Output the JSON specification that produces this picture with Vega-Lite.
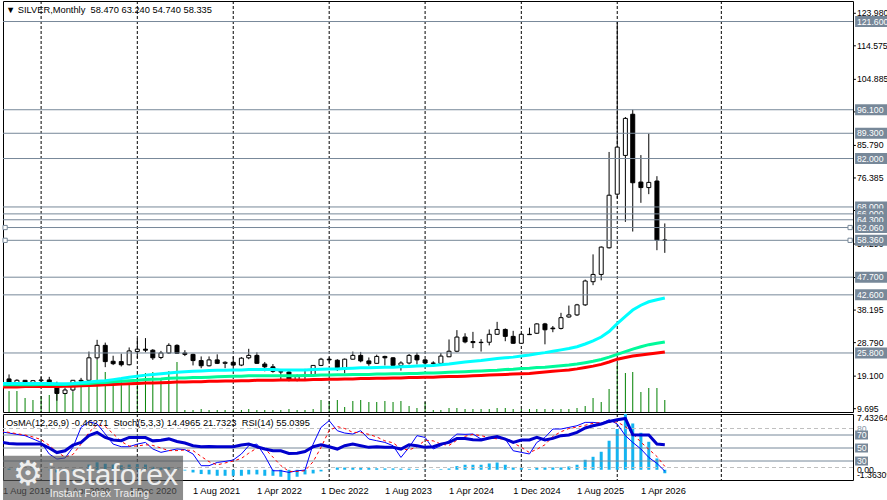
{
  "$schema": "https://vega.github.io/schema/vega-lite/v6.json",
  "padding": 0,
  "autosize": {"type": "pad"},
  "background": "white",
  "spacing": 2,
  "bounds": "flush",
  "config": {
    "view": {"stroke": "black", "strokeWidth": 1},
    "text": {"font": "Liberation Sans", "color": "black"},
    "scale": {"continuousPadding": 0}
  },
  "datasets": {
    "bars": [
      {"date": "2019-08-01", "open": 16.4, "high": 18.6, "low": 16.2, "close": 18.3, "vol": 25, "ma_fast": 17.0, "ma_mid": 16.6, "ma_slow": 16.0, "osma": 0.2, "stoch": 75, "signal": 76, "rsi": 59},
      {"date": "2019-09-01", "open": 18.3, "high": 19.6, "low": 16.9, "close": 17.2, "vol": 21, "ma_fast": 17.0, "ma_mid": 16.6, "ma_slow": 16.0, "osma": 0.15, "stoch": 73, "signal": 74, "rsi": 57},
      {"date": "2019-10-01", "open": 17.2, "high": 18.2, "low": 16.9, "close": 17.9, "vol": 21, "ma_fast": 17.0, "ma_mid": 16.6, "ma_slow": 16.0, "osma": 0.1, "stoch": 71, "signal": 72, "rsi": 56},
      {"date": "2019-11-01", "open": 17.9, "high": 18.0, "low": 16.6, "close": 17.1, "vol": 14, "ma_fast": 17.0, "ma_mid": 16.6, "ma_slow": 16.1, "osma": 0.0, "stoch": 69, "signal": 70, "rsi": 56},
      {"date": "2019-12-01", "open": 17.1, "high": 18.0, "low": 16.8, "close": 17.8, "vol": 12, "ma_fast": 17.0, "ma_mid": 16.6, "ma_slow": 16.1, "osma": -0.05, "stoch": 64, "signal": 67, "rsi": 56},
      {"date": "2020-01-01", "open": 17.8, "high": 18.9, "low": 17.4, "close": 18.0, "vol": 16, "ma_fast": 17.0, "ma_mid": 16.7, "ma_slow": 16.1, "osma": 0.05, "stoch": 58.6, "signal": 63, "rsi": 56},
      {"date": "2020-02-01", "open": 18.0, "high": 18.9, "low": 16.6, "close": 16.7, "vol": 17, "ma_fast": 17.0, "ma_mid": 16.7, "ma_slow": 16.1, "osma": -0.05, "stoch": 40.8, "signal": 54, "rsi": 50},
      {"date": "2020-03-01", "open": 16.6, "high": 17.5, "low": 12.0, "close": 14.1, "vol": 26, "ma_fast": 16.9, "ma_mid": 16.7, "ma_slow": 16.1, "osma": -0.35, "stoch": 33, "signal": 44, "rsi": 43},
      {"date": "2020-04-01", "open": 14.1, "high": 15.8, "low": 13.9, "close": 15.1, "vol": 19, "ma_fast": 16.9, "ma_mid": 16.7, "ma_slow": 16.2, "osma": -0.3, "stoch": 34.6, "signal": 36, "rsi": 45.8},
      {"date": "2020-05-01", "open": 15.1, "high": 18.0, "low": 14.6, "close": 17.9, "vol": 20, "ma_fast": 17.0, "ma_mid": 16.8, "ma_slow": 16.2, "osma": -0.1, "stoch": 51, "signal": 40, "rsi": 54.6},
      {"date": "2020-06-01", "open": 17.9, "high": 18.6, "low": 17.2, "close": 17.7, "vol": 32, "ma_fast": 17.2, "ma_mid": 16.9, "ma_slow": 16.3, "osma": 0.1, "stoch": 81.7, "signal": 56, "rsi": 58.6},
      {"date": "2020-07-01", "open": 17.9, "high": 26.2, "low": 17.7, "close": 24.4, "vol": 33, "ma_fast": 17.4, "ma_mid": 17.0, "ma_slow": 16.4, "osma": 0.7, "stoch": 90.5, "signal": 74, "rsi": 69},
      {"date": "2020-08-01", "open": 24.4, "high": 29.6, "low": 23.8, "close": 28.0, "vol": 52, "ma_fast": 17.6, "ma_mid": 17.2, "ma_slow": 16.5, "osma": 1.0, "stoch": 87, "signal": 86, "rsi": 74},
      {"date": "2020-09-01", "open": 28.0, "high": 28.8, "low": 21.7, "close": 23.3, "vol": 40, "ma_fast": 17.8, "ma_mid": 17.3, "ma_slow": 16.6, "osma": 0.8, "stoch": 71.5, "signal": 83, "rsi": 66.3},
      {"date": "2020-10-01", "open": 23.4, "high": 25.0, "low": 22.3, "close": 22.7, "vol": 33, "ma_fast": 18.1, "ma_mid": 17.5, "ma_slow": 16.7, "osma": 0.7, "stoch": 56, "signal": 72, "rsi": 62.3},
      {"date": "2020-11-01", "open": 23.3, "high": 25.6, "low": 21.9, "close": 22.4, "vol": 33, "ma_fast": 18.4, "ma_mid": 17.6, "ma_slow": 16.8, "osma": 0.6, "stoch": 52, "signal": 60, "rsi": 61.2},
      {"date": "2020-12-01", "open": 22.4, "high": 27.4, "low": 22.2, "close": 26.4, "vol": 28, "ma_fast": 18.8, "ma_mid": 17.8, "ma_slow": 16.9, "osma": 0.7, "stoch": 52, "signal": 53, "rsi": 66.3},
      {"date": "2021-01-01", "open": 26.2, "high": 30.0, "low": 24.3, "close": 26.9, "vol": 38, "ma_fast": 19.1, "ma_mid": 17.9, "ma_slow": 17.0, "osma": 0.75, "stoch": 56, "signal": 53, "rsi": 66.3},
      {"date": "2021-02-01", "open": 26.9, "high": 30.1, "low": 26.0, "close": 26.6, "vol": 39, "ma_fast": 19.4, "ma_mid": 18.1, "ma_slow": 17.1, "osma": 0.7, "stoch": 58.6, "signal": 55, "rsi": 66},
      {"date": "2021-03-01", "open": 26.6, "high": 26.9, "low": 23.8, "close": 24.4, "vol": 40, "ma_fast": 19.6, "ma_mid": 18.2, "ma_slow": 17.1, "osma": 0.4, "stoch": 48.5, "signal": 54, "rsi": 61},
      {"date": "2021-04-01", "open": 24.5, "high": 26.4, "low": 24.0, "close": 25.8, "vol": 34, "ma_fast": 19.8, "ma_mid": 18.3, "ma_slow": 17.2, "osma": 0.3, "stoch": 43.3, "signal": 50, "rsi": 62},
      {"date": "2021-05-01", "open": 25.8, "high": 28.6, "low": 25.6, "close": 28.0, "vol": 41, "ma_fast": 20.0, "ma_mid": 18.5, "ma_slow": 17.3, "osma": 0.35, "stoch": 46, "signal": 46, "rsi": 64},
      {"date": "2021-06-01", "open": 28.0, "high": 28.3, "low": 25.5, "close": 25.7, "vol": 50, "ma_fast": 20.2, "ma_mid": 18.6, "ma_slow": 17.4, "osma": 0.15, "stoch": 48.5, "signal": 46, "rsi": 60},
      {"date": "2021-07-01", "open": 25.8, "high": 26.6, "low": 24.9, "close": 25.4, "vol": 2, "ma_fast": 20.4, "ma_mid": 18.6, "ma_slow": 17.4, "osma": -0.1, "stoch": 47.5, "signal": 47, "rsi": 57.7},
      {"date": "2021-08-01", "open": 25.4, "high": 25.6, "low": 22.2, "close": 23.6, "vol": 2, "ma_fast": 20.5, "ma_mid": 18.7, "ma_slow": 17.5, "osma": -0.36, "stoch": 40.8, "signal": 46, "rsi": 53.5},
      {"date": "2021-09-01", "open": 23.6, "high": 24.8, "low": 21.4, "close": 22.1, "vol": 3, "ma_fast": 20.6, "ma_mid": 18.7, "ma_slow": 17.5, "osma": -0.57, "stoch": 22.8, "signal": 37, "rsi": 52},
      {"date": "2021-10-01", "open": 22.1, "high": 24.8, "low": 21.9, "close": 23.8, "vol": 2, "ma_fast": 20.7, "ma_mid": 18.8, "ma_slow": 17.6, "osma": -0.62, "stoch": 22.8, "signal": 29, "rsi": 52.5},
      {"date": "2021-11-01", "open": 23.8, "high": 25.4, "low": 22.6, "close": 22.8, "vol": 2, "ma_fast": 20.8, "ma_mid": 18.9, "ma_slow": 17.6, "osma": -0.8, "stoch": 27.8, "signal": 24, "rsi": 52},
      {"date": "2021-12-01", "open": 22.8, "high": 23.4, "low": 21.4, "close": 23.1, "vol": 2, "ma_fast": 20.8, "ma_mid": 19.0, "ma_slow": 17.7, "osma": -0.8, "stoch": 29.4, "signal": 27, "rsi": 52},
      {"date": "2022-01-01", "open": 23.1, "high": 24.8, "low": 22.0, "close": 22.3, "vol": 2, "ma_fast": 20.9, "ma_mid": 19.1, "ma_slow": 17.7, "osma": -0.8, "stoch": 31.5, "signal": 30, "rsi": 52},
      {"date": "2022-02-01", "open": 22.3, "high": 24.6, "low": 22.0, "close": 24.3, "vol": 2, "ma_fast": 20.9, "ma_mid": 19.1, "ma_slow": 17.8, "osma": -0.8, "stoch": 40.8, "signal": 34, "rsi": 54.6},
      {"date": "2022-03-01", "open": 24.4, "high": 27.0, "low": 24.0, "close": 25.1, "vol": 3, "ma_fast": 21.0, "ma_mid": 19.2, "ma_slow": 17.8, "osma": -0.62, "stoch": 53.5, "signal": 42, "rsi": 56},
      {"date": "2022-04-01", "open": 25.1, "high": 26.0, "low": 22.7, "close": 22.8, "vol": 2, "ma_fast": 21.0, "ma_mid": 19.2, "ma_slow": 17.9, "osma": -0.62, "stoch": 56, "signal": 50, "rsi": 52},
      {"date": "2022-05-01", "open": 22.6, "high": 23.2, "low": 20.5, "close": 21.8, "vol": 2, "ma_fast": 21.0, "ma_mid": 19.2, "ma_slow": 17.9, "osma": -0.8, "stoch": 38, "signal": 49, "rsi": 48.5},
      {"date": "2022-06-01", "open": 21.8, "high": 22.6, "low": 20.1, "close": 20.5, "vol": 2, "ma_fast": 21.0, "ma_mid": 19.2, "ma_slow": 17.9, "osma": -0.8, "stoch": 15, "signal": 36, "rsi": 45.8},
      {"date": "2022-07-01", "open": 20.4, "high": 20.9, "low": 18.2, "close": 20.3, "vol": 2, "ma_fast": 20.9, "ma_mid": 19.2, "ma_slow": 18.0, "osma": -0.93, "stoch": 15, "signal": 23, "rsi": 45.8},
      {"date": "2022-08-01", "open": 20.3, "high": 20.9, "low": 17.6, "close": 17.9, "vol": 3, "ma_fast": 20.9, "ma_mid": 19.2, "ma_slow": 18.0, "osma": -1.36309, "stoch": 12.5, "signal": 14, "rsi": 41.7},
      {"date": "2022-09-01", "open": 17.9, "high": 19.6, "low": 17.6, "close": 19.0, "vol": 2, "ma_fast": 20.9, "ma_mid": 19.2, "ma_slow": 18.0, "osma": -0.93, "stoch": 15, "signal": 14, "rsi": 42},
      {"date": "2022-10-01", "open": 19.0, "high": 21.2, "low": 18.1, "close": 19.2, "vol": 2, "ma_fast": 20.9, "ma_mid": 19.3, "ma_slow": 18.0, "osma": -0.62, "stoch": 16, "signal": 15, "rsi": 44.5},
      {"date": "2022-11-01", "open": 19.3, "high": 22.3, "low": 18.9, "close": 22.2, "vol": 3, "ma_fast": 21.0, "ma_mid": 19.3, "ma_slow": 18.1, "osma": -0.49, "stoch": 56, "signal": 29, "rsi": 52},
      {"date": "2022-12-01", "open": 22.2, "high": 24.4, "low": 22.0, "close": 24.0, "vol": 12, "ma_fast": 21.1, "ma_mid": 19.4, "ma_slow": 18.1, "osma": -0.22, "stoch": 81.7, "signal": 51, "rsi": 55},
      {"date": "2023-01-01", "open": 24.0, "high": 24.6, "low": 23.0, "close": 23.8, "vol": 11, "ma_fast": 21.2, "ma_mid": 19.4, "ma_slow": 18.2, "osma": 0.05, "stoch": 92, "signal": 77, "rsi": 52},
      {"date": "2023-02-01", "open": 23.7, "high": 24.0, "low": 20.6, "close": 21.5, "vol": 12, "ma_fast": 21.2, "ma_mid": 19.5, "ma_slow": 18.2, "osma": 0.3, "stoch": 76.6, "signal": 83, "rsi": 48.4},
      {"date": "2023-03-01", "open": 21.1, "high": 24.2, "low": 19.9, "close": 24.0, "vol": 5, "ma_fast": 21.3, "ma_mid": 19.5, "ma_slow": 18.3, "osma": 0.3, "stoch": 73, "signal": 80, "rsi": 53.5},
      {"date": "2023-04-01", "open": 24.0, "high": 26.2, "low": 23.9, "close": 25.1, "vol": 11, "ma_fast": 21.4, "ma_mid": 19.6, "ma_slow": 18.3, "osma": 0.3, "stoch": 71.5, "signal": 74, "rsi": 56},
      {"date": "2023-05-01", "open": 25.1, "high": 26.1, "low": 23.1, "close": 23.5, "vol": 12, "ma_fast": 21.5, "ma_mid": 19.6, "ma_slow": 18.4, "osma": 0.25, "stoch": 76.6, "signal": 74, "rsi": 53.5},
      {"date": "2023-06-01", "open": 23.5, "high": 24.5, "low": 22.1, "close": 22.7, "vol": 10, "ma_fast": 21.5, "ma_mid": 19.6, "ma_slow": 18.4, "osma": 0.23, "stoch": 63.8, "signal": 71, "rsi": 51},
      {"date": "2023-07-01", "open": 22.8, "high": 25.3, "low": 22.7, "close": 24.8, "vol": 10, "ma_fast": 21.6, "ma_mid": 19.7, "ma_slow": 18.5, "osma": 0.2, "stoch": 61.2, "signal": 67, "rsi": 52},
      {"date": "2023-08-01", "open": 24.8, "high": 25.0, "low": 22.2, "close": 24.4, "vol": 11, "ma_fast": 21.7, "ma_mid": 19.7, "ma_slow": 18.5, "osma": 0.18, "stoch": 58.6, "signal": 61, "rsi": 51},
      {"date": "2023-09-01", "open": 24.4, "high": 24.6, "low": 22.1, "close": 22.2, "vol": 10, "ma_fast": 21.7, "ma_mid": 19.8, "ma_slow": 18.6, "osma": 0.18, "stoch": 53.5, "signal": 58, "rsi": 51},
      {"date": "2023-10-01", "open": 22.2, "high": 23.4, "low": 20.7, "close": 22.9, "vol": 11, "ma_fast": 21.8, "ma_mid": 19.8, "ma_slow": 18.6, "osma": 0.15, "stoch": 35.5, "signal": 49, "rsi": 48.4},
      {"date": "2023-11-01", "open": 22.9, "high": 25.5, "low": 22.5, "close": 25.1, "vol": 6, "ma_fast": 21.9, "ma_mid": 19.9, "ma_slow": 18.7, "osma": 0.15, "stoch": 51, "signal": 47, "rsi": 55},
      {"date": "2023-12-01", "open": 25.1, "high": 25.9, "low": 22.5, "close": 23.8, "vol": 4, "ma_fast": 22.0, "ma_mid": 19.9, "ma_slow": 18.7, "osma": 0.1, "stoch": 69, "signal": 52, "rsi": 53.5},
      {"date": "2024-01-01", "open": 23.8, "high": 24.0, "low": 21.9, "close": 22.9, "vol": 10, "ma_fast": 22.1, "ma_mid": 20.0, "ma_slow": 18.8, "osma": 0.05, "stoch": 66.3, "signal": 62, "rsi": 51},
      {"date": "2024-02-01", "open": 22.9, "high": 23.4, "low": 22.3, "close": 22.8, "vol": 2, "ma_fast": 22.2, "ma_mid": 20.0, "ma_slow": 18.8, "osma": 0.03, "stoch": 48.5, "signal": 61, "rsi": 52},
      {"date": "2024-03-01", "open": 22.8, "high": 25.8, "low": 22.5, "close": 24.9, "vol": 2, "ma_fast": 22.4, "ma_mid": 20.1, "ma_slow": 18.9, "osma": 0.08, "stoch": 53.5, "signal": 56, "rsi": 56},
      {"date": "2024-04-01", "open": 24.7, "high": 29.7, "low": 24.6, "close": 26.3, "vol": 4, "ma_fast": 22.6, "ma_mid": 20.2, "ma_slow": 19.0, "osma": 0.17, "stoch": 61.2, "signal": 54, "rsi": 58.6},
      {"date": "2024-05-01", "open": 26.3, "high": 32.4, "low": 26.0, "close": 30.4, "vol": 4, "ma_fast": 22.9, "ma_mid": 20.3, "ma_slow": 19.0, "osma": 0.49, "stoch": 71.5, "signal": 62, "rsi": 64.8},
      {"date": "2024-06-01", "open": 30.4, "high": 31.5, "low": 28.6, "close": 29.0, "vol": 3, "ma_fast": 23.2, "ma_mid": 20.4, "ma_slow": 19.1, "osma": 0.67, "stoch": 71, "signal": 68, "rsi": 64.5},
      {"date": "2024-07-01", "open": 29.1, "high": 31.9, "low": 27.2, "close": 28.8, "vol": 3, "ma_fast": 23.4, "ma_mid": 20.5, "ma_slow": 19.2, "osma": 0.67, "stoch": 71.5, "signal": 71, "rsi": 62.8},
      {"date": "2024-08-01", "open": 28.8, "high": 29.8, "low": 26.2, "close": 28.9, "vol": 3, "ma_fast": 23.6, "ma_mid": 20.6, "ma_slow": 19.3, "osma": 0.67, "stoch": 63.8, "signal": 69, "rsi": 62.5},
      {"date": "2024-09-01", "open": 28.9, "high": 32.6, "low": 28.0, "close": 31.2, "vol": 3, "ma_fast": 23.9, "ma_mid": 20.7, "ma_slow": 19.4, "osma": 0.84, "stoch": 64.5, "signal": 66, "rsi": 65.4},
      {"date": "2024-10-01", "open": 31.2, "high": 34.8, "low": 31.0, "close": 32.6, "vol": 4, "ma_fast": 24.2, "ma_mid": 20.8, "ma_slow": 19.5, "osma": 0.97, "stoch": 65, "signal": 64, "rsi": 67.8},
      {"date": "2024-11-01", "open": 32.6, "high": 32.9, "low": 29.2, "close": 30.6, "vol": 4, "ma_fast": 24.4, "ma_mid": 21.0, "ma_slow": 19.6, "osma": 0.67, "stoch": 63.8, "signal": 64, "rsi": 63.8},
      {"date": "2024-12-01", "open": 30.6, "high": 32.2, "low": 28.5, "close": 28.6, "vol": 3, "ma_fast": 24.6, "ma_mid": 21.1, "ma_slow": 19.7, "osma": 0.31, "stoch": 45.8, "signal": 58, "rsi": 58.6},
      {"date": "2025-01-01", "open": 28.6, "high": 31.6, "low": 28.5, "close": 31.2, "vol": 3, "ma_fast": 24.9, "ma_mid": 21.3, "ma_slow": 19.8, "osma": 0.31, "stoch": 43.3, "signal": 51, "rsi": 62.3},
      {"date": "2025-02-01", "open": 31.2, "high": 33.1, "low": 31.0, "close": 31.1, "vol": 3, "ma_fast": 25.2, "ma_mid": 21.4, "ma_slow": 19.9, "osma": 0.09, "stoch": 40.8, "signal": 43, "rsi": 62.3},
      {"date": "2025-03-01", "open": 31.5, "high": 34.4, "low": 31.3, "close": 34.2, "vol": 3, "ma_fast": 25.6, "ma_mid": 21.6, "ma_slow": 20.1, "osma": 0.31, "stoch": 58.6, "signal": 48, "rsi": 66.3},
      {"date": "2025-04-01", "open": 34.2, "high": 34.5, "low": 28.3, "close": 32.5, "vol": 3, "ma_fast": 25.9, "ma_mid": 21.7, "ma_slow": 20.3, "osma": 0.31, "stoch": 66.3, "signal": 55, "rsi": 62.3},
      {"date": "2025-05-01", "open": 33.0, "high": 33.6, "low": 31.8, "close": 32.8, "vol": 3, "ma_fast": 26.3, "ma_mid": 21.9, "ma_slow": 20.5, "osma": 0.31, "stoch": 79.2, "signal": 68, "rsi": 64.8},
      {"date": "2025-06-01", "open": 32.9, "high": 37.4, "low": 32.6, "close": 36.0, "vol": 3, "ma_fast": 26.7, "ma_mid": 22.1, "ma_slow": 20.7, "osma": 0.31, "stoch": 79.2, "signal": 75, "rsi": 69},
      {"date": "2025-07-01", "open": 36.2, "high": 39.5, "low": 36.0, "close": 36.8, "vol": 3, "ma_fast": 27.1, "ma_mid": 22.3, "ma_slow": 20.9, "osma": 0.44, "stoch": 81.7, "signal": 80, "rsi": 70},
      {"date": "2025-08-01", "open": 36.8, "high": 40.0, "low": 36.5, "close": 39.7, "vol": 4, "ma_fast": 27.6, "ma_mid": 22.6, "ma_slow": 21.2, "osma": 0.67, "stoch": 84.3, "signal": 82, "rsi": 74},
      {"date": "2025-09-01", "open": 39.7, "high": 47.0, "low": 39.4, "close": 46.6, "vol": 6, "ma_fast": 28.4, "ma_mid": 23.0, "ma_slow": 21.6, "osma": 1.33, "stoch": 89.4, "signal": 85, "rsi": 80.8},
      {"date": "2025-10-01", "open": 46.4, "high": 54.3, "low": 45.4, "close": 48.5, "vol": 14, "ma_fast": 29.3, "ma_mid": 23.4, "ma_slow": 22.0, "osma": 1.73, "stoch": 89.4, "signal": 88, "rsi": 84.3},
      {"date": "2025-11-01", "open": 48.5, "high": 56.6, "low": 46.8, "close": 56.4, "vol": 10, "ma_fast": 30.4, "ma_mid": 23.9, "ma_slow": 22.5, "osma": 2.4, "stoch": 88, "signal": 89, "rsi": 86.9},
      {"date": "2025-12-01", "open": 56.2, "high": 83.9, "low": 56.0, "close": 71.4, "vol": 23, "ma_fast": 32.0, "ma_mid": 24.6, "ma_slow": 23.2, "osma": 3.87, "stoch": 93.5, "signal": 90, "rsi": 90.9},
      {"date": "2026-01-01", "open": 71.7, "high": 121.6, "low": 70.5, "close": 85.3, "vol": 48, "ma_fast": 34.3, "ma_mid": 25.4, "ma_slow": 24.0, "osma": 5.43, "stoch": 86.9, "signal": 90, "rsi": 93.5},
      {"date": "2026-02-01", "open": 82.9, "high": 94.0, "low": 63.7, "close": 93.6, "vol": 39, "ma_fast": 36.4, "ma_mid": 26.2, "ma_slow": 24.5, "osma": 7.43264, "stoch": 69, "signal": 83, "rsi": 95.5},
      {"date": "2026-03-01", "open": 94.8, "high": 96.1, "low": 60.9, "close": 75.0, "vol": 40, "ma_fast": 38.2, "ma_mid": 26.9, "ma_slow": 24.9, "osma": 6.17, "stoch": 58.6, "signal": 72, "rsi": 70.5},
      {"date": "2026-04-01", "open": 75.2, "high": 83.0, "low": 69.2, "close": 73.6, "vol": 20, "ma_fast": 39.6, "ma_mid": 27.6, "ma_slow": 25.2, "osma": 4.93, "stoch": 48.5, "signal": 59, "rsi": 70},
      {"date": "2026-05-01", "open": 73.6, "high": 89.2, "low": 71.7, "close": 75.1, "vol": 24, "ma_fast": 40.6, "ma_mid": 28.2, "ma_slow": 25.5, "osma": 3.73, "stoch": 35.5, "signal": 48, "rsi": 70},
      {"date": "2026-06-01", "open": 75.5, "high": 76.9, "low": 55.5, "close": 58.4, "vol": 24, "ma_fast": 41.2, "ma_mid": 28.6, "ma_slow": 25.8, "osma": 1.51, "stoch": 26.3, "signal": 37, "rsi": 56},
      {"date": "2026-07-01", "open": 58.47, "high": 63.24, "low": 54.74, "close": 58.335, "vol": 12, "ma_fast": 41.7, "ma_mid": 29.0, "ma_slow": 26.1, "osma": -0.46271, "stoch": 14.4965, "signal": 21.7323, "rsi": 55.0395}
    ],
    "grid": [
      {"date": "2020-01-01"}, {"date": "2021-01-01"}, {"date": "2022-01-01"}, {"date": "2023-01-01"},
      {"date": "2024-01-01"}, {"date": "2025-01-01"}, {"date": "2026-01-01"}, {"date": "2027-02-01"}
    ],
    "date_labels": [
      {"date": "2020-04-01", "label": "1 Apr 2020"}, {"date": "2020-12-01", "label": "1 Dec 2020"},
      {"date": "2021-08-01", "label": "1 Aug 2021"}, {"date": "2022-04-01", "label": "1 Apr 2022"},
      {"date": "2022-12-01", "label": "1 Dec 2022"}, {"date": "2023-08-01", "label": "1 Aug 2023"},
      {"date": "2024-04-01", "label": "1 Apr 2024"}, {"date": "2024-12-01", "label": "1 Dec 2024"},
      {"date": "2025-08-01", "label": "1 Aug 2025"}, {"date": "2026-04-01", "label": "1 Apr 2026"}
    ],
    "price_ticks": [
      {"price": 9.695}, {"price": 19.1}, {"price": 28.79}, {"price": 38.195}, {"price": 47.6}, {"price": 57.29},
      {"price": 66.98}, {"price": 76.385}, {"price": 85.79}, {"price": 95.48}, {"price": 104.885}, {"price": 114.575}, {"price": 123.98}
    ],
    "levels": [
      {"price": 121.6}, {"price": 96.1}, {"price": 89.3}, {"price": 82.0},
      {"price": 68.0}, {"price": 66.0}, {"price": 64.3}, {"price": 62.06},
      {"price": 58.36}, {"price": 47.7}, {"price": 42.6}, {"price": 25.8}
    ],
    "osc_levels": [
      {"level": 80}, {"level": 70}, {"level": 50}, {"level": 30}, {"level": 20}
    ]
  },
  "vconcat": [
    {
      "width": 850,
      "height": 411,
      "layer": [
        {
          "data": {"name": "bars"},
          "mark": {"type": "rule", "color": "#008000", "strokeWidth": 1, "clip": true},
          "encoding": {
            "x": {"field": "date", "type": "temporal", "axis": null,
                  "scale": {"type": "utc", "padding": 0, "domain": [{"year": 2019, "month": 8, "date": 9, "utc": true}, {"year": 2028, "month": 6, "date": 16, "utc": true}]}},
            "y": {"field": "vol", "type": "quantitative", "scale": {"domain": [0, 411], "nice": false, "zero": false, "padding": 0}, "axis": null},
            "y2": {"datum": 0}
          }
        },
        {
          "layer": [
            {
              "data": {"name": "grid"},
              "mark": {"type": "rule", "color": "black", "strokeDash": [3, 2], "strokeWidth": 1},
              "encoding": {
                "x": {"field": "date", "type": "temporal", "axis": null,
                      "scale": {"type": "utc", "padding": 0, "domain": [{"year": 2019, "month": 8, "date": 9, "utc": true}, {"year": 2028, "month": 6, "date": 16, "utc": true}]}}
              }
            },
            {
              "data": {"name": "bars"},
              "mark": {"type": "rule", "color": "black", "strokeWidth": 1, "clip": true},
              "encoding": {
                "x": {"field": "date", "type": "temporal", "axis": null,
                      "scale": {"type": "utc", "padding": 0, "domain": [{"year": 2019, "month": 8, "date": 9, "utc": true}, {"year": 2028, "month": 6, "date": 16, "utc": true}]}},
                "y": {"field": "low", "type": "quantitative", "scale": {"domain": [8.74, 127.53], "nice": false, "zero": false, "padding": 0}, "axis": null},
                "y2": {"field": "high"}
              }
            },
            {
              "data": {"name": "bars"},
              "mark": {"type": "bar", "size": 4, "stroke": "black", "strokeWidth": 1, "clip": true},
              "encoding": {
                "x": {"field": "date", "type": "temporal", "axis": null,
                      "scale": {"type": "utc", "padding": 0, "domain": [{"year": 2019, "month": 8, "date": 9, "utc": true}, {"year": 2028, "month": 6, "date": 16, "utc": true}]}},
                "y": {"field": "open", "type": "quantitative", "scale": {"domain": [8.74, 127.53], "nice": false, "zero": false, "padding": 0}, "axis": null},
                "y2": {"field": "close"},
                "fill": {"condition": {"test": "datum.close < datum.open", "value": "black"}, "value": "white"}
              }
            },
            {
              "data": {"name": "levels"},
              "mark": {"type": "rule", "color": "#778899", "strokeWidth": 1},
              "encoding": {
                "y": {"field": "price", "type": "quantitative", "scale": {"domain": [8.74, 127.53], "nice": false, "zero": false, "padding": 0}, "axis": null}
              }
            },
            {
              "data": {"name": "bars"},
              "mark": {"type": "line", "color": "#FF0000", "strokeWidth": 3, "clip": true},
              "encoding": {
                "x": {"field": "date", "type": "temporal", "axis": null,
                      "scale": {"type": "utc", "padding": 0, "domain": [{"year": 2019, "month": 8, "date": 9, "utc": true}, {"year": 2028, "month": 6, "date": 16, "utc": true}]}},
                "y": {"field": "ma_slow", "type": "quantitative", "scale": {"domain": [8.74, 127.53], "nice": false, "zero": false, "padding": 0}, "axis": null}
              }
            },
            {
              "data": {"name": "bars"},
              "mark": {"type": "line", "color": "#00FA9A", "strokeWidth": 3, "clip": true},
              "encoding": {
                "x": {"field": "date", "type": "temporal", "axis": null,
                      "scale": {"type": "utc", "padding": 0, "domain": [{"year": 2019, "month": 8, "date": 9, "utc": true}, {"year": 2028, "month": 6, "date": 16, "utc": true}]}},
                "y": {"field": "ma_mid", "type": "quantitative", "scale": {"domain": [8.74, 127.53], "nice": false, "zero": false, "padding": 0}, "axis": null}
              }
            },
            {
              "data": {"name": "bars"},
              "mark": {"type": "line", "color": "#00FFFF", "strokeWidth": 3, "clip": true},
              "encoding": {
                "x": {"field": "date", "type": "temporal", "axis": null,
                      "scale": {"type": "utc", "padding": 0, "domain": [{"year": 2019, "month": 8, "date": 9, "utc": true}, {"year": 2028, "month": 6, "date": 16, "utc": true}]}},
                "y": {"field": "ma_fast", "type": "quantitative", "scale": {"domain": [8.74, 127.53], "nice": false, "zero": false, "padding": 0}, "axis": null}
              }
            },
            {
              "data": {"name": "levels"},
              "transform": [{"filter": "datum.price == 62.06 || datum.price == 58.36"}],
              "layer": [
                {
                  "mark": {"type": "point", "shape": "square", "size": 18, "filled": true, "fill": "white", "stroke": "#778899", "strokeWidth": 1, "opacity": 1},
                  "encoding": {
                    "x": {"datum": {"year": 2019, "month": 8, "date": 17, "utc": true}, "type": "temporal", "axis": null,
                          "scale": {"type": "utc", "padding": 0, "domain": [{"year": 2019, "month": 8, "date": 9, "utc": true}, {"year": 2028, "month": 6, "date": 16, "utc": true}]}},
                    "y": {"field": "price", "type": "quantitative", "scale": {"domain": [8.74, 127.53], "nice": false, "zero": false, "padding": 0}, "axis": null}
                  }
                },
                {
                  "mark": {"type": "point", "shape": "square", "size": 18, "filled": true, "fill": "white", "stroke": "#778899", "strokeWidth": 1, "opacity": 1},
                  "encoding": {
                    "x": {"datum": {"year": 2028, "month": 6, "date": 5, "utc": true}, "type": "temporal", "axis": null,
                          "scale": {"type": "utc", "padding": 0, "domain": [{"year": 2019, "month": 8, "date": 9, "utc": true}, {"year": 2028, "month": 6, "date": 16, "utc": true}]}},
                    "y": {"field": "price", "type": "quantitative", "scale": {"domain": [8.74, 127.53], "nice": false, "zero": false, "padding": 0}, "axis": null}
                  }
                }
              ]
            },
            {
              "data": {"values": [{}]},
              "mark": {"type": "text", "align": "left", "baseline": "middle", "dx": 3, "fontSize": 9.3,
                       "text": "▼ SILVER,Monthly\u00a0\u00a058.470 63.240 54.740 58.335"},
              "encoding": {
                "x": {"datum": {"year": 2019, "month": 8, "date": 9, "utc": true}, "type": "temporal", "axis": null,
                      "scale": {"type": "utc", "padding": 0, "domain": [{"year": 2019, "month": 8, "date": 9, "utc": true}, {"year": 2028, "month": 6, "date": 16, "utc": true}]}},
                "y": {"datum": 125, "type": "quantitative", "scale": {"domain": [8.74, 127.53], "nice": false, "zero": false, "padding": 0}, "axis": null}
              }
            },
            {
              "data": {"name": "price_ticks"},
              "layer": [
                {
                  "mark": {"type": "rule", "color": "black", "strokeWidth": 1},
                  "encoding": {
                    "x": {"datum": {"year": 2028, "month": 6, "date": 16, "utc": true}, "type": "temporal", "axis": null,
                          "scale": {"type": "utc", "padding": 0, "domain": [{"year": 2019, "month": 8, "date": 9, "utc": true}, {"year": 2028, "month": 6, "date": 16, "utc": true}]}},
                    "x2": {"datum": {"year": 2028, "month": 6, "date": 27, "utc": true}},
                    "y": {"field": "price", "type": "quantitative", "scale": {"domain": [8.74, 127.53], "nice": false, "zero": false, "padding": 0}, "axis": null}
                  }
                },
                {
                  "mark": {"type": "text", "align": "left", "baseline": "middle", "fontSize": 8.7},
                  "encoding": {
                    "x": {"datum": {"year": 2028, "month": 7, "date": 1, "utc": true}, "type": "temporal", "axis": null,
                          "scale": {"type": "utc", "padding": 0, "domain": [{"year": 2019, "month": 8, "date": 9, "utc": true}, {"year": 2028, "month": 6, "date": 16, "utc": true}]}},
                    "y": {"field": "price", "type": "quantitative", "scale": {"domain": [8.74, 127.53], "nice": false, "zero": false, "padding": 0}, "axis": null},
                    "text": {"field": "price", "format": ".3f"}
                  }
                }
              ]
            },
            {
              "data": {"name": "levels"},
              "transform": [{"filter": "datum.price < 62 || datum.price > 69"}],
              "layer": [
                {
                  "mark": {"type": "bar", "orient": "horizontal", "size": 11, "color": "#778899"},
                  "encoding": {
                    "x": {"datum": {"year": 2028, "month": 6, "date": 24, "utc": true}, "type": "temporal", "axis": null,
                          "scale": {"type": "utc", "padding": 0, "domain": [{"year": 2019, "month": 8, "date": 9, "utc": true}, {"year": 2028, "month": 6, "date": 16, "utc": true}]}},
                    "x2": {"datum": {"year": 2028, "month": 11, "date": 3, "utc": true}},
                    "y": {"field": "price", "type": "quantitative", "scale": {"domain": [8.74, 127.53], "nice": false, "zero": false, "padding": 0}, "axis": null}
                  }
                },
                {
                  "mark": {"type": "text", "align": "left", "baseline": "middle", "color": "white", "fontSize": 8.7},
                  "encoding": {
                    "x": {"datum": {"year": 2028, "month": 7, "date": 1, "utc": true}, "type": "temporal", "axis": null,
                          "scale": {"type": "utc", "padding": 0, "domain": [{"year": 2019, "month": 8, "date": 9, "utc": true}, {"year": 2028, "month": 6, "date": 16, "utc": true}]}},
                    "y": {"field": "price", "type": "quantitative", "scale": {"domain": [8.74, 127.53], "nice": false, "zero": false, "padding": 0}, "axis": null},
                    "text": {"field": "price", "format": ".3f"}
                  }
                }
              ]
            },
            {
              "data": {"name": "levels"},
              "transform": [{"filter": "datum.price == 68"}],
              "layer": [
                {
                  "mark": {"type": "bar", "orient": "horizontal", "size": 11, "color": "#778899"},
                  "encoding": {
                    "x": {"datum": {"year": 2028, "month": 6, "date": 24, "utc": true}, "type": "temporal", "axis": null,
                          "scale": {"type": "utc", "padding": 0, "domain": [{"year": 2019, "month": 8, "date": 9, "utc": true}, {"year": 2028, "month": 6, "date": 16, "utc": true}]}},
                    "x2": {"datum": {"year": 2028, "month": 11, "date": 3, "utc": true}},
                    "y": {"field": "price", "type": "quantitative", "scale": {"domain": [8.74, 127.53], "nice": false, "zero": false, "padding": 0}, "axis": null}
                  }
                },
                {
                  "mark": {"type": "text", "align": "left", "baseline": "middle", "color": "white", "fontSize": 8.7},
                  "encoding": {
                    "x": {"datum": {"year": 2028, "month": 7, "date": 1, "utc": true}, "type": "temporal", "axis": null,
                          "scale": {"type": "utc", "padding": 0, "domain": [{"year": 2019, "month": 8, "date": 9, "utc": true}, {"year": 2028, "month": 6, "date": 16, "utc": true}]}},
                    "y": {"field": "price", "type": "quantitative", "scale": {"domain": [8.74, 127.53], "nice": false, "zero": false, "padding": 0}, "axis": null},
                    "text": {"field": "price", "format": ".3f"}
                  }
                }
              ]
            },
            {
              "data": {"name": "levels"},
              "transform": [{"filter": "datum.price == 66"}],
              "layer": [
                {
                  "mark": {"type": "bar", "orient": "horizontal", "size": 11, "color": "#778899"},
                  "encoding": {
                    "x": {"datum": {"year": 2028, "month": 6, "date": 24, "utc": true}, "type": "temporal", "axis": null,
                          "scale": {"type": "utc", "padding": 0, "domain": [{"year": 2019, "month": 8, "date": 9, "utc": true}, {"year": 2028, "month": 6, "date": 16, "utc": true}]}},
                    "x2": {"datum": {"year": 2028, "month": 11, "date": 3, "utc": true}},
                    "y": {"field": "price", "type": "quantitative", "scale": {"domain": [8.74, 127.53], "nice": false, "zero": false, "padding": 0}, "axis": null}
                  }
                },
                {
                  "mark": {"type": "text", "align": "left", "baseline": "middle", "color": "white", "fontSize": 8.7},
                  "encoding": {
                    "x": {"datum": {"year": 2028, "month": 7, "date": 1, "utc": true}, "type": "temporal", "axis": null,
                          "scale": {"type": "utc", "padding": 0, "domain": [{"year": 2019, "month": 8, "date": 9, "utc": true}, {"year": 2028, "month": 6, "date": 16, "utc": true}]}},
                    "y": {"field": "price", "type": "quantitative", "scale": {"domain": [8.74, 127.53], "nice": false, "zero": false, "padding": 0}, "axis": null},
                    "text": {"field": "price", "format": ".3f"}
                  }
                }
              ]
            },
            {
              "data": {"name": "levels"},
              "transform": [{"filter": "datum.price == 64.3"}],
              "layer": [
                {
                  "mark": {"type": "bar", "orient": "horizontal", "size": 11, "color": "#778899"},
                  "encoding": {
                    "x": {"datum": {"year": 2028, "month": 6, "date": 24, "utc": true}, "type": "temporal", "axis": null,
                          "scale": {"type": "utc", "padding": 0, "domain": [{"year": 2019, "month": 8, "date": 9, "utc": true}, {"year": 2028, "month": 6, "date": 16, "utc": true}]}},
                    "x2": {"datum": {"year": 2028, "month": 11, "date": 3, "utc": true}},
                    "y": {"field": "price", "type": "quantitative", "scale": {"domain": [8.74, 127.53], "nice": false, "zero": false, "padding": 0}, "axis": null}
                  }
                },
                {
                  "mark": {"type": "text", "align": "left", "baseline": "middle", "color": "white", "fontSize": 8.7},
                  "encoding": {
                    "x": {"datum": {"year": 2028, "month": 7, "date": 1, "utc": true}, "type": "temporal", "axis": null,
                          "scale": {"type": "utc", "padding": 0, "domain": [{"year": 2019, "month": 8, "date": 9, "utc": true}, {"year": 2028, "month": 6, "date": 16, "utc": true}]}},
                    "y": {"field": "price", "type": "quantitative", "scale": {"domain": [8.74, 127.53], "nice": false, "zero": false, "padding": 0}, "axis": null},
                    "text": {"field": "price", "format": ".3f"}
                  }
                }
              ]
            },
            {
              "data": {"name": "levels"},
              "transform": [{"filter": "datum.price == 62.06"}],
              "layer": [
                {
                  "mark": {"type": "bar", "orient": "horizontal", "size": 11, "color": "#778899"},
                  "encoding": {
                    "x": {"datum": {"year": 2028, "month": 6, "date": 24, "utc": true}, "type": "temporal", "axis": null,
                          "scale": {"type": "utc", "padding": 0, "domain": [{"year": 2019, "month": 8, "date": 9, "utc": true}, {"year": 2028, "month": 6, "date": 16, "utc": true}]}},
                    "x2": {"datum": {"year": 2028, "month": 11, "date": 3, "utc": true}},
                    "y": {"field": "price", "type": "quantitative", "scale": {"domain": [8.74, 127.53], "nice": false, "zero": false, "padding": 0}, "axis": null}
                  }
                },
                {
                  "mark": {"type": "text", "align": "left", "baseline": "middle", "color": "white", "fontSize": 8.7},
                  "encoding": {
                    "x": {"datum": {"year": 2028, "month": 7, "date": 1, "utc": true}, "type": "temporal", "axis": null,
                          "scale": {"type": "utc", "padding": 0, "domain": [{"year": 2019, "month": 8, "date": 9, "utc": true}, {"year": 2028, "month": 6, "date": 16, "utc": true}]}},
                    "y": {"field": "price", "type": "quantitative", "scale": {"domain": [8.74, 127.53], "nice": false, "zero": false, "padding": 0}, "axis": null},
                    "text": {"field": "price", "format": ".3f"}
                  }
                }
              ]
            }
          ]
        }
      ],
      "resolve": {"scale": {"y": "independent"}}
    },
    {
      "width": 850,
      "height": 66,
      "layer": [
        {
          "layer": [
            {
              "data": {"name": "grid"},
              "mark": {"type": "rule", "color": "black", "strokeDash": [3, 2], "strokeWidth": 1},
              "encoding": {
                "x": {"field": "date", "type": "temporal", "axis": null,
                      "scale": {"type": "utc", "padding": 0, "domain": [{"year": 2019, "month": 8, "date": 9, "utc": true}, {"year": 2028, "month": 6, "date": 16, "utc": true}]}}
              }
            },
            {
              "data": {"name": "bars"},
              "mark": {"type": "bar", "size": 3, "color": "#14B4F0", "clip": true},
              "encoding": {
                "x": {"field": "date", "type": "temporal", "axis": null,
                      "scale": {"type": "utc", "padding": 0, "domain": [{"year": 2019, "month": 8, "date": 9, "utc": true}, {"year": 2028, "month": 6, "date": 16, "utc": true}]}},
                "y": {"field": "osma", "type": "quantitative", "scale": {"domain": [-1.36309, 7.43264], "nice": false, "zero": false, "padding": 0}, "axis": null},
                "y2": {"datum": 0}
              }
            }
          ]
        },
        {
          "layer": [
            {
              "data": {"name": "osc_levels"},
              "transform": [{"filter": "datum.level == 80 || datum.level == 20"}],
              "mark": {"type": "rule", "color": "#C0C0C0", "strokeDash": [4, 3], "strokeWidth": 1},
              "encoding": {
                "y": {"field": "level", "type": "quantitative", "scale": {"domain": [0.8, 102.3], "nice": false, "zero": false, "padding": 0}, "axis": null}
              }
            },
            {
              "data": {"name": "osc_levels"},
              "transform": [{"filter": "datum.level != 80 && datum.level != 20"}],
              "mark": {"type": "rule", "color": "#778899", "strokeWidth": 1},
              "encoding": {
                "y": {"field": "level", "type": "quantitative", "scale": {"domain": [0.8, 102.3], "nice": false, "zero": false, "padding": 0}, "axis": null}
              }
            },
            {
              "data": {"name": "bars"},
              "mark": {"type": "line", "color": "#0000FF", "strokeWidth": 1, "clip": true},
              "encoding": {
                "x": {"field": "date", "type": "temporal", "axis": null,
                      "scale": {"type": "utc", "padding": 0, "domain": [{"year": 2019, "month": 8, "date": 9, "utc": true}, {"year": 2028, "month": 6, "date": 16, "utc": true}]}},
                "y": {"field": "stoch", "type": "quantitative", "scale": {"domain": [0.8, 102.3], "nice": false, "zero": false, "padding": 0}, "axis": null}
              }
            },
            {
              "data": {"name": "bars"},
              "mark": {"type": "line", "color": "#FF0000", "strokeWidth": 1, "strokeDash": [3, 3], "clip": true},
              "encoding": {
                "x": {"field": "date", "type": "temporal", "axis": null,
                      "scale": {"type": "utc", "padding": 0, "domain": [{"year": 2019, "month": 8, "date": 9, "utc": true}, {"year": 2028, "month": 6, "date": 16, "utc": true}]}},
                "y": {"field": "signal", "type": "quantitative", "scale": {"domain": [0.8, 102.3], "nice": false, "zero": false, "padding": 0}, "axis": null}
              }
            },
            {
              "data": {"name": "bars"},
              "mark": {"type": "line", "color": "#0000CD", "strokeWidth": 3, "clip": true},
              "encoding": {
                "x": {"field": "date", "type": "temporal", "axis": null,
                      "scale": {"type": "utc", "padding": 0, "domain": [{"year": 2019, "month": 8, "date": 9, "utc": true}, {"year": 2028, "month": 6, "date": 16, "utc": true}]}},
                "y": {"field": "rsi", "type": "quantitative", "scale": {"domain": [0.8, 102.3], "nice": false, "zero": false, "padding": 0}, "axis": null}
              }
            },
            {
              "data": {"values": [{}]},
              "mark": {"type": "text", "align": "left", "baseline": "middle", "dx": 3, "fontSize": 9.3,
                       "text": "OsMA(12,26,9) -0.46271\u00a0\u00a0Stoch(5,3,3) 14.4965 21.7323\u00a0\u00a0RSI(14) 55.0395"},
              "encoding": {
                "x": {"datum": {"year": 2019, "month": 8, "date": 9, "utc": true}, "type": "temporal", "axis": null,
                      "scale": {"type": "utc", "padding": 0, "domain": [{"year": 2019, "month": 8, "date": 9, "utc": true}, {"year": 2028, "month": 6, "date": 16, "utc": true}]}},
                "y": {"datum": 89, "type": "quantitative", "scale": {"domain": [0.8, 102.3], "nice": false, "zero": false, "padding": 0}, "axis": null}
              }
            },
            {
              "data": {"name": "osc_levels"},
              "transform": [{"filter": "datum.level == 80"}],
              "mark": {"type": "text", "align": "left", "baseline": "middle", "color": "#8A97A6", "fontSize": 8.7},
              "encoding": {
                "x": {"datum": {"year": 2028, "month": 7, "date": 1, "utc": true}, "type": "temporal", "axis": null,
                      "scale": {"type": "utc", "padding": 0, "domain": [{"year": 2019, "month": 8, "date": 9, "utc": true}, {"year": 2028, "month": 6, "date": 16, "utc": true}]}},
                "y": {"field": "level", "type": "quantitative", "scale": {"domain": [0.8, 102.3], "nice": false, "zero": false, "padding": 0}, "axis": null},
                "text": {"field": "level", "format": "d"}
              }
            },
            {
              "data": {"name": "osc_levels"},
              "transform": [{"filter": "datum.level == 70 || datum.level == 50 || datum.level == 30"}],
              "layer": [
                {
                  "mark": {"type": "bar", "orient": "horizontal", "size": 9, "color": "#778899"},
                  "encoding": {
                    "x": {"datum": {"year": 2028, "month": 6, "date": 24, "utc": true}, "type": "temporal", "axis": null,
                          "scale": {"type": "utc", "padding": 0, "domain": [{"year": 2019, "month": 8, "date": 9, "utc": true}, {"year": 2028, "month": 6, "date": 16, "utc": true}]}},
                    "x2": {"datum": {"year": 2028, "month": 8, "date": 12, "utc": true}},
                    "y": {"field": "level", "type": "quantitative", "scale": {"domain": [0.8, 102.3], "nice": false, "zero": false, "padding": 0}, "axis": null}
                  }
                },
                {
                  "mark": {"type": "text", "align": "left", "baseline": "middle", "color": "white", "fontSize": 8.7},
                  "encoding": {
                    "x": {"datum": {"year": 2028, "month": 7, "date": 1, "utc": true}, "type": "temporal", "axis": null,
                          "scale": {"type": "utc", "padding": 0, "domain": [{"year": 2019, "month": 8, "date": 9, "utc": true}, {"year": 2028, "month": 6, "date": 16, "utc": true}]}},
                    "y": {"field": "level", "type": "quantitative", "scale": {"domain": [0.8, 102.3], "nice": false, "zero": false, "padding": 0}, "axis": null},
                    "text": {"field": "level", "format": "d"}
                  }
                }
              ]
            },
            {
              "data": {"values": [{}]},
              "mark": {"type": "text", "align": "left", "baseline": "top", "fontSize": 8.7, "text": "7.43264"},
              "encoding": {
                "x": {"datum": {"year": 2028, "month": 7, "date": 1, "utc": true}, "type": "temporal", "axis": null,
                      "scale": {"type": "utc", "padding": 0, "domain": [{"year": 2019, "month": 8, "date": 9, "utc": true}, {"year": 2028, "month": 6, "date": 16, "utc": true}]}},
                "y": {"datum": 102.3, "type": "quantitative", "scale": {"domain": [0.8, 102.3], "nice": false, "zero": false, "padding": 0}, "axis": null}
              }
            },
            {
              "data": {"values": [{}]},
              "mark": {"type": "text", "align": "left", "baseline": "middle", "fontSize": 8.7, "text": "0.00"},
              "encoding": {
                "x": {"datum": {"year": 2028, "month": 7, "date": 1, "utc": true}, "type": "temporal", "axis": null,
                      "scale": {"type": "utc", "padding": 0, "domain": [{"year": 2019, "month": 8, "date": 9, "utc": true}, {"year": 2028, "month": 6, "date": 16, "utc": true}]}},
                "y": {"datum": 16.6, "type": "quantitative", "scale": {"domain": [0.8, 102.3], "nice": false, "zero": false, "padding": 0}, "axis": null}
              }
            },
            {
              "data": {"values": [{}]},
              "mark": {"type": "text", "align": "left", "baseline": "middle", "fontSize": 8.7, "text": "-1.36309"},
              "encoding": {
                "x": {"datum": {"year": 2028, "month": 7, "date": 1, "utc": true}, "type": "temporal", "axis": null,
                      "scale": {"type": "utc", "padding": 0, "domain": [{"year": 2019, "month": 8, "date": 9, "utc": true}, {"year": 2028, "month": 6, "date": 16, "utc": true}]}},
                "y": {"datum": 8, "type": "quantitative", "scale": {"domain": [0.8, 102.3], "nice": false, "zero": false, "padding": 0}, "axis": null}
              }
            },
            {
              "data": {"name": "date_labels"},
              "mark": {"type": "text", "align": "left", "baseline": "middle", "fontSize": 9.3},
              "encoding": {
                "x": {"field": "date", "type": "temporal", "axis": null,
                      "scale": {"type": "utc", "padding": 0, "domain": [{"year": 2019, "month": 8, "date": 9, "utc": true}, {"year": 2028, "month": 6, "date": 16, "utc": true}]}},
                "y": {"datum": -15.5, "type": "quantitative", "scale": {"domain": [0.8, 102.3], "nice": false, "zero": false, "padding": 0}, "axis": null},
                "text": {"field": "label"}
              }
            },
            {
              "data": {"values": [{}]},
              "mark": {"type": "text", "align": "left", "baseline": "middle", "fontSize": 9.3, "text": "1 Aug 2019"},
              "encoding": {
                "x": {"datum": {"year": 2019, "month": 8, "date": 9, "utc": true}, "type": "temporal", "axis": null,
                      "scale": {"type": "utc", "padding": 0, "domain": [{"year": 2019, "month": 8, "date": 9, "utc": true}, {"year": 2028, "month": 6, "date": 16, "utc": true}]}},
                "y": {"datum": -15.5, "type": "quantitative", "scale": {"domain": [0.8, 102.3], "nice": false, "zero": false, "padding": 0}, "axis": null}
              }
            },
            {
              "data": {"values": [{}]},
              "mark": {"type": "rect", "color": "#555555", "opacity": 0.68},
              "encoding": {
                "x": {"datum": {"year": 2019, "month": 8, "date": 9, "utc": true}, "type": "temporal", "axis": null,
                      "scale": {"type": "utc", "padding": 0, "domain": [{"year": 2019, "month": 8, "date": 9, "utc": true}, {"year": 2028, "month": 6, "date": 16, "utc": true}]}},
                "x2": {"datum": {"year": 2021, "month": 6, "date": 24, "utc": true}},
                "y": {"datum": 38.2, "type": "quantitative", "scale": {"domain": [0.8, 102.3], "nice": false, "zero": false, "padding": 0}, "axis": null},
                "y2": {"datum": -31.0}
              }
            },
            {
              "data": {"values": [{}]},
              "mark": {"type": "text", "align": "center", "baseline": "middle", "fontSize": 34, "color": "#EEEEEE", "font": "DejaVu Sans", "text": "⚙"},
              "encoding": {
                "x": {"datum": {"year": 2019, "month": 11, "date": 12, "utc": true}, "type": "temporal", "axis": null,
                      "scale": {"type": "utc", "padding": 0, "domain": [{"year": 2019, "month": 8, "date": 9, "utc": true}, {"year": 2028, "month": 6, "date": 16, "utc": true}]}},
                "y": {"datum": 9, "type": "quantitative", "scale": {"domain": [0.8, 102.3], "nice": false, "zero": false, "padding": 0}, "axis": null}
              }
            },
            {
              "data": {"values": [{}]},
              "mark": {"type": "text", "align": "left", "baseline": "alphabetic", "fontSize": 30, "color": "#EEEEEE", "text": "instaforex"},
              "encoding": {
                "x": {"datum": {"year": 2020, "month": 1, "date": 27, "utc": true}, "type": "temporal", "axis": null,
                      "scale": {"type": "utc", "padding": 0, "domain": [{"year": 2019, "month": 8, "date": 9, "utc": true}, {"year": 2028, "month": 6, "date": 16, "utc": true}]}},
                "y": {"datum": -6.4, "type": "quantitative", "scale": {"domain": [0.8, 102.3], "nice": false, "zero": false, "padding": 0}, "axis": null}
              }
            },
            {
              "data": {"values": [{}]},
              "mark": {"type": "text", "align": "left", "baseline": "alphabetic", "fontSize": 10.5, "color": "#EEEEEE", "text": "Instant Forex Trading"},
              "encoding": {
                "x": {"datum": {"year": 2020, "month": 2, "date": 3, "utc": true}, "type": "temporal", "axis": null,
                      "scale": {"type": "utc", "padding": 0, "domain": [{"year": 2019, "month": 8, "date": 9, "utc": true}, {"year": 2028, "month": 6, "date": 16, "utc": true}]}},
                "y": {"datum": -24.9, "type": "quantitative", "scale": {"domain": [0.8, 102.3], "nice": false, "zero": false, "padding": 0}, "axis": null}
              }
            }
          ]
        }
      ],
      "resolve": {"scale": {"y": "independent"}}
    }
  ]
}
